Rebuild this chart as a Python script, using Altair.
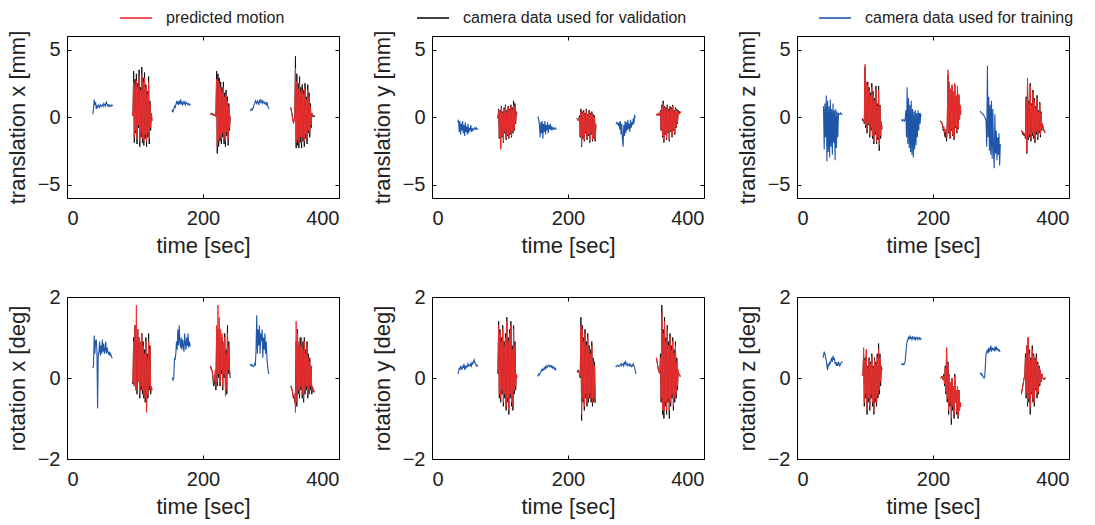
import altair as alt
import pandas as pd

STEP = 1.0  # sampling interval of every recorded segment [s]

SERIES = ["predicted motion", "camera data used for validation", "camera data used for training"]
COLORS = ["#EE2E2E", "#111111", "#1F56A8"]

# ---------------- translation x [mm] ----------------
tx_train_t0 = [38, 154, 269]
tx_train = [
    [0.2, 0.6, 1.3, 0.9, 1.1, 0.6, 0.8, 0.7, 0.9, 0.8, 0.7, 0.9, 0.8, 0.8, 0.9, 0.8, 1.0, 0.9, 0.8, 1.0, 1.1, 0.9, 0.8, 0.9, 0.8, 0.9, 0.8, 0.8, 0.9, 0.8],
    [0.4, 0.5, 0.4, 0.6, 0.8, 0.7, 0.9, 1.1, 1.0, 1.2, 0.9, 1.1, 1.0, 1.3, 1.0, 1.1, 0.9, 1.0, 1.2, 1.0, 0.9, 1.1, 1.0, 1.0, 0.9, 1.0, 0.9, 0.9, 0.9],
    [0.5, 0.5, 0.6, 0.5, 0.6, 0.7, 0.9, 1.0, 1.2, 1.1, 1.0, 1.2, 1.1, 0.9, 1.2, 1.1, 1.3, 1.1, 1.0, 1.2, 1.1, 1.0, 1.1, 1.0, 0.9, 1.1, 0.9, 0.7, 0.6],
]
tx_valid_t0 = [96, 211, 329]
tx_valid = [
    [0.2, 0.1, 3.4, -1.9, 2.8, -1.2, 3.2, -2.0, 2.5, -0.8, 3.5, -2.2, 2.2, -1.5, 3.7, -1.9, 2.9, -2.1, 3.3, -1.6, 2.4, -2.2, 1.9, -1.5, 3.0, -2.0, 1.2, -1.0, 0.3, -0.3],
    [0.2, 0.2, 0.3, 0.2, 0.1, 0.2, 0.2, 0.1, 0.0, 3.4, -2.7, 3.2, -2.2, 2.9, -1.8, 2.6, -2.0, 2.2, -1.5, 2.6, -2.0, 1.8, -2.2, 2.0, -1.4, 1.5, -2.1, 1.0, -1.0, 0.0],
    [0.7, 0.5, 0.2, -0.1, -0.4, -0.2, 0.0, 4.5, -2.3, 3.2, -2.1, 2.5, -2.3, 3.0, -1.9, 2.2, -2.3, 2.4, -1.8, 2.0, -2.2, 2.5, -1.6, 1.5, -2.0, 2.4, -1.2, 1.8, -1.5, 1.0, -0.8, 0.3, 0.1, 0.0, 0.1, 0.0],
]
tx_pred = [
    [0.3, 0.1, 2.6, -1.5, 2.4, -1.0, 2.7, -1.6, 2.2, -0.6, 3.0, -1.8, 2.0, -1.2, 3.2, -1.6, 2.6, -1.8, 2.9, -1.3, 2.2, -1.8, 1.7, -1.2, 2.6, -1.6, 1.0, -0.8, 0.3, -0.2],
    [0.3, 0.2, 0.2, 0.3, 0.1, 0.2, 0.1, 0.2, 0.0, 2.8, -2.2, 2.7, -1.8, 2.5, -1.5, 2.2, -1.6, 1.9, -1.2, 2.2, -1.6, 1.5, -1.8, 1.7, -1.1, 1.2, -1.7, 0.8, -0.8, 0.1],
    [0.7, 0.4, 0.1, -0.2, -0.5, -0.3, 0.0, 3.6, -1.9, 2.6, -1.7, 2.1, -1.9, 2.5, -1.5, 1.8, -1.9, 2.0, -1.5, 1.7, -1.8, 2.1, -1.3, 1.3, -1.6, 2.0, -1.0, 1.5, -1.2, 0.8, -0.6, 0.3, 0.2, 0.1, 0.1, 0.1],
]

# ---------------- translation y [mm] ----------------
ty_train_t0 = [38, 155, 270]
ty_train = [
    [-0.4, -0.2, -1.1, -0.3, -1.3, -0.5, -1.0, -0.3, -1.2, -0.6, -1.4, -0.4, -1.1, -0.7, -1.3, -0.5, -1.2, -0.8, -1.0, -0.6, -1.1, -0.8, -1.0, -0.9, -0.9, -0.8, -0.9, -0.8, -0.9, -0.9, -0.9],
    [0.0, 0.0, -0.2, -0.6, -1.5, -0.4, -1.2, -0.3, -1.6, -0.5, -1.1, -0.3, -1.3, -0.6, -1.0, -0.4, -1.2, -0.6, -0.9, -0.5, -1.0, -0.7, -0.9, -0.8, -0.9, -0.9, -0.8, -0.9, -0.9],
    [-0.5, -0.5, -0.4, -0.5, -0.6, -0.4, -0.9, -0.3, -1.3, -0.5, -1.6, -2.2, -0.6, -1.4, -0.3, -1.2, -0.4, -1.0, -0.2, -0.9, -0.5, -1.1, -0.2, -0.8, -0.4, -0.6, -0.1, -0.5, 0.1, 0.0, 0.0],
]
ty_valid_t0 = [96, 213, 330]
ty_valid = [
    [0.0, -0.1, 0.6, -1.6, 0.5, -2.3, 0.8, -1.5, 0.4, -1.9, 0.7, -1.2, 0.9, -1.7, 0.5, -1.4, 0.8, -1.6, 0.6, -1.3, 0.9, -1.5, 0.7, -1.2, 1.2, -1.0, 1.0, -0.5, 0.4, 0.2],
    [-0.1, -0.2, -0.2, -0.1, 0.1, -1.5, 0.6, -2.2, 0.4, -1.6, 0.5, -1.8, 0.3, -1.2, 0.6, -1.7, 0.2, -1.4, 0.5, -1.9, 0.3, -1.3, 0.4, -1.8, 0.2, -1.6, 0.1, -1.8, -0.5],
    [0.2, 0.2, 0.1, 0.3, 0.2, 0.1, 0.5, -1.0, 0.9, -1.5, 1.2, -1.9, 0.8, -1.3, 0.7, -1.7, 0.9, -1.2, 0.6, -1.8, 0.8, -1.1, 0.7, -1.5, 0.9, -1.0, 0.5, -1.3, 0.7, -0.8, 0.6, -0.5, 0.5, 0.2, 0.4, 0.3, 0.4],
]
ty_pred = [
    [0.0, -0.1, 0.5, -1.5, 0.4, -2.4, 0.7, -1.4, 0.3, -1.8, 0.6, -1.1, 0.8, -1.6, 0.4, -1.3, 0.7, -1.5, 0.5, -1.2, 0.8, -1.4, 0.6, -1.1, 0.9, -0.9, 0.8, -0.4, 0.3, 0.3],
    [-0.1, -0.2, -0.3, -0.2, 0.0, -1.4, 0.4, -2.1, 0.3, -1.5, 0.4, -1.7, 0.2, -1.1, 0.5, -1.6, 0.1, -1.3, 0.4, -1.8, 0.2, -1.2, 0.3, -1.7, 0.1, -1.5, 0.0, -1.7, -0.5],
    [0.2, 0.1, 0.2, 0.3, 0.1, 0.1, 0.4, -0.9, 0.8, -1.4, 1.0, -1.8, 0.7, -1.2, 0.6, -1.6, 0.8, -1.1, 0.5, -1.7, 0.7, -1.0, 0.6, -1.4, 0.8, -0.9, 0.4, -1.2, 0.6, -0.7, 0.5, -0.4, 0.4, 0.2, 0.3, 0.3, 0.4],
]

# ---------------- translation z [mm] ----------------
tz_train_t0 = [38, 153, 269]
tz_train = [
    [0.8, 0.7, -2.4, 1.0, -1.5, 1.6, -3.3, 1.2, -2.6, 0.8, -3.0, 1.3, -2.2, 0.6, -2.8, 1.0, -1.9, 0.5, -3.2, 0.6, -2.3, 0.4, -1.5, 0.3, 0.2, 0.2, 0.3, 0.2, 0.2, 0.2],
    [-0.2, -0.2, -0.3, -0.2, -0.2, -0.3, -0.2, 0.5, -1.5, 2.2, -2.0, 1.4, -2.3, 0.9, -2.6, 1.2, -2.8, 0.6, -3.0, 0.4, -2.4, 0.5, -2.1, 0.3, -1.5, 0.5, -1.0, 0.3, -0.5, 0.2, 0.1],
    [0.4, 0.4, 0.3, 0.3, 0.2, 0.2, 0.1, 0.0, -0.1, -0.3, -2.2, 3.8, -1.5, 1.5, -2.5, 0.9, -2.8, 1.2, -3.1, 0.6, -2.5, -3.8, 0.2, -2.7, -1.0, -3.2, -1.5, -2.8, -1.2, -3.6, -2.0],
]
tz_valid_t0 = [96, 211, 330]
tz_valid = [
    [-0.1, -0.3, -0.2, -0.5, 3.7, -0.8, 2.4, -1.2, 2.6, -0.6, 2.2, -1.5, 1.8, -1.0, 2.5, -1.6, 1.9, -2.0, 1.4, -1.3, 2.3, -2.0, 1.0, -1.7, 2.3, -2.5, 0.9, -1.6, -0.4, -0.9],
    [-0.3, -0.4, -0.5, -0.6, -1.0, -0.9, -1.3, -1.5, -1.1, -1.8, -0.5, 3.1, -1.2, 2.4, -1.6, 2.0, -1.0, 2.3, -1.4, 1.8, -1.7, 2.4, -0.8, 1.5, -1.2, 2.2, -0.9, 1.6, -0.2, 0.8, 0.2],
    [-1.0, -1.1, -1.3, -1.2, -1.4, -1.3, -1.6, 1.5, -2.7, 2.8, -1.7, 1.2, -1.5, 2.5, -1.8, 1.0, -1.4, 2.0, -1.6, 1.4, -1.9, 0.8, -1.3, 1.6, -1.7, 0.5, -1.2, 1.1, -1.5, 0.4, -1.0, -0.5, -0.8, -1.0, -1.1, -1.2],
]
tz_pred = [
    [-0.1, -0.2, -0.2, -0.4, 3.9, -0.6, 2.6, -1.0, 2.4, -0.5, 2.0, -1.3, 1.6, -0.8, 2.2, -1.4, 1.7, -1.8, 1.2, -1.1, 2.0, -1.8, 0.8, -1.5, 2.0, -2.1, 0.8, -1.4, -0.3, -0.9],
    [-0.3, -0.3, -0.4, -0.5, -0.8, -0.7, -1.0, -1.2, -0.9, -1.5, -0.4, 3.5, -1.1, 2.6, -1.5, 2.1, -0.9, 2.4, -1.3, 1.9, -1.6, 2.5, -0.7, 1.6, -1.1, 2.3, -0.8, 1.7, -0.2, 0.9, 0.2],
    [-1.0, -1.0, -1.2, -1.1, -1.3, -1.2, -1.5, 1.3, -2.6, 2.9, -1.5, 1.0, -1.3, 2.3, -1.6, 0.9, -1.2, 1.8, -1.4, 1.2, -1.7, 0.7, -1.1, 1.4, -1.5, 0.4, -1.0, 1.0, -1.3, 0.3, -0.9, -0.5, -0.8, -0.9, -1.0, -1.1],
]

# ---------------- rotation x [deg] ----------------
rx_train_t0 = [38, 154, 269]
rx_train = [
    [0.25, 0.3, 1.05, 0.6, 0.9, 0.95, 0.7, -0.75, 0.6, 0.65, 0.9, 0.55, 0.8, 0.6, 0.95, 0.65, 0.85, 0.6, 0.7, 0.9, 0.6, 0.75, 0.65, 0.6, 0.65, 0.55, 0.6, 0.55, 0.5, 0.5],
    [0.0, 0.0, -0.05, 0.0, 0.5, 0.45, 0.6, 0.9, 0.7, 1.2, 0.8, 1.3, 0.9, 0.75, 1.0, 0.7, 0.95, 0.8, 0.65, 1.1, 0.85, 0.7, 1.0, 0.8, 1.1, 0.75, 0.9, 0.8, 0.8],
    [0.35, 0.32, 0.3, 0.33, 0.3, 0.28, 0.3, 0.35, 0.3, 0.7, 1.55, 0.6, 1.2, 0.8, 1.3, 0.6, 1.1, 0.9, 1.2, 0.5, 1.0, 0.7, 1.1, 0.6, 0.9, 0.5, 0.3, 0.15, 0.1],
]
rx_valid_t0 = [96, 211, 329]
rx_valid = [
    [-0.1, -0.15, 1.0, -0.2, 1.3, -0.3, 0.9, -0.4, 1.2, -0.1, 1.0, -0.5, 0.8, -0.3, 1.1, -0.4, 0.9, -0.5, 0.7, -0.6, 1.0, -0.8, 0.6, -0.5, 1.1, -0.3, 0.8, -0.4, -0.2, -0.3],
    [0.3, 0.25, 0.2, 0.1, -0.1, -0.2, -0.1, 0.1, -0.3, 1.0, -0.2, 1.2, 0.0, 1.1, -0.2, 0.9, 0.1, 1.0, -0.3, 0.8, 0.0, 1.1, -0.2, 0.7, -0.4, 1.3, 0.1, 0.9, 0.2, 0.0],
    [-0.2, -0.25, -0.3, -0.4, -0.5, -0.45, -0.6, -0.3, 0.9, -0.7, 1.2, -0.4, 0.8, -0.5, 1.0, -0.3, 0.6, -0.5, 0.9, -0.6, 1.0, -0.4, 0.7, -0.3, 0.9, -0.5, 0.6, -0.4, 0.5, -0.3, 0.3, -0.4, -0.2, -0.3, -0.35, -0.35],
]
rx_pred = [
    [-0.1, -0.1, 0.9, -0.2, 1.3, -0.3, 1.8, -0.3, 1.2, -0.1, 1.0, -0.4, 0.9, -0.2, 1.1, -0.3, 0.8, -0.4, 0.6, -0.5, 0.9, -0.85, 0.5, -0.4, 0.9, -0.2, 0.7, -0.3, -0.2, -0.3],
    [0.3, 0.2, 0.2, 0.15, 0.0, -0.1, 0.0, 0.2, -0.2, 1.3, -0.1, 1.8, 0.1, 1.5, -0.1, 1.2, 0.2, 1.1, -0.2, 0.9, 0.1, 1.0, -0.45, 0.6, -0.3, 1.1, 0.2, 0.8, 0.2, 0.1],
    [-0.2, -0.2, -0.3, -0.35, -0.45, -0.4, -0.5, -0.85, 1.4, -0.6, 1.1, -0.3, 0.9, -0.4, 0.8, -0.2, 1.0, -0.4, 0.7, -0.5, 0.9, -0.3, 0.6, -0.2, 0.8, -0.4, 0.5, -0.3, 0.4, -0.2, 0.3, -0.3, -0.2, -0.3, -0.3, -0.35],
]

# ---------------- rotation y [deg] ----------------
ry_train_t0 = [38, 155, 270]
ry_train = [
    [0.1, 0.15, 0.25, 0.2, 0.3, 0.25, 0.2, 0.3, 0.25, 0.35, 0.2, 0.3, 0.25, 0.3, 0.28, 0.35, 0.3, 0.32, 0.3, 0.35, 0.3, 0.38, 0.35, 0.4, 0.45, 0.38, 0.35, 0.3, 0.32, 0.3, 0.3],
    [0.05, 0.05, 0.1, 0.08, 0.12, 0.15, 0.2, 0.18, 0.22, 0.2, 0.25, 0.22, 0.28, 0.25, 0.3, 0.27, 0.3, 0.32, 0.28, 0.3, 0.27, 0.3, 0.25, 0.28, 0.25, 0.22, 0.25, 0.2, 0.2],
    [0.3, 0.28, 0.3, 0.32, 0.3, 0.28, 0.3, 0.33, 0.35, 0.3, 0.32, 0.35, 0.3, 0.38, 0.35, 0.4, 0.33, 0.3, 0.35, 0.32, 0.3, 0.35, 0.3, 0.28, 0.32, 0.3, 0.35, 0.3, 0.25, 0.15, 0.1],
]
ry_valid_t0 = [96, 213, 330]
ry_valid = [
    [0.15, 0.1, 1.4, -0.5, 1.2, -0.6, 1.0, -0.4, 1.3, -0.7, 0.9, -0.5, 1.1, -0.8, 1.5, -0.6, 1.0, -0.9, 1.2, -0.5, 1.4, -0.7, 0.8, -0.8, 1.3, -0.4, 0.9, -0.3, 0.1, 0.0],
    [0.15, 0.15, 0.2, 0.15, 0.1, 0.0, 1.5, -1.05, 1.3, -0.6, 1.0, -0.8, 1.2, -0.5, 0.9, -0.7, 1.1, -0.6, 0.8, -0.5, 0.7, -0.6, 0.9, -0.7, 0.5, -0.6, 0.4, -0.6, -0.6],
    [0.5, 0.4, 0.3, 0.2, 0.15, 0.1, 0.6, -0.6, 1.8, -0.9, 1.2, -1.0, 1.5, -0.7, 1.0, -0.9, 1.3, -0.6, 0.9, -1.0, 1.1, -0.7, 0.8, -0.5, 1.0, -0.8, 0.7, -0.6, 0.9, -0.5, 0.5, -0.3, 0.2, 0.1, 0.05, 0.05, 0.05],
]
ry_pred = [
    [0.15, 0.1, 1.3, -0.4, 1.1, -0.5, 0.9, -0.3, 1.2, -0.6, 0.8, -0.4, 1.0, -0.7, 1.4, -0.5, 0.9, -0.8, 1.1, -0.4, 1.3, -0.6, 0.7, -0.7, 1.2, -0.3, 0.8, -0.2, 0.1, 0.0],
    [0.15, 0.15, 0.15, 0.15, 0.1, 0.05, 1.3, -0.9, 1.2, -0.5, 0.9, -0.7, 1.1, -0.4, 0.8, -0.6, 1.0, -0.5, 0.7, -0.4, 0.6, -0.5, 0.8, -0.6, 0.4, -0.5, 0.3, -0.5, -0.5],
    [0.5, 0.4, 0.3, 0.2, 0.15, 0.1, 0.5, -0.5, 1.6, -0.8, 1.1, -0.8, 1.4, -0.6, 0.9, -0.8, 1.2, -0.5, 0.8, -0.8, 1.0, -0.6, 0.7, -0.4, 0.9, -0.7, 0.6, -0.5, 0.8, -0.4, 0.4, -0.2, 0.2, 0.1, 0.05, 0.05, 0.05],
]

# ---------------- rotation z [deg] ----------------
rz_train_t0 = [38, 153, 269]
rz_train = [
    [0.5, 0.55, 0.65, 0.6, 0.5, 0.45, 0.3, 0.2, 0.35, 0.3, 0.4, 0.35, 0.45, 0.5, 0.4, 0.55, 0.45, 0.5, 0.35, 0.4, 0.3, 0.35, 0.3, 0.4, 0.35, 0.3, 0.35, 0.38, 0.4, 0.4],
    [0.35, 0.35, 0.33, 0.35, 0.33, 0.35, 0.4, 0.6, 0.8, 0.9, 0.95, 1.0, 0.95, 1.05, 0.98, 1.0, 0.95, 1.02, 1.0, 0.96, 1.0, 0.95, 1.0, 0.97, 1.0, 0.95, 0.98, 1.0, 0.95, 0.98, 0.97],
    [0.1, 0.12, 0.08, 0.1, 0.05, 0.03, 0.0, 0.02, 0.3, 0.6, 0.65, 0.7, 0.6, 0.75, 0.65, 0.7, 0.8, 0.65, 0.75, 0.7, 0.72, 0.68, 0.75, 0.7, 0.78, 0.7, 0.72, 0.68, 0.7, 0.66, 0.65],
]
rz_valid_t0 = [96, 211, 330]
rz_valid = [
    [0.05, 0.1, 0.6, -0.7, 0.5, -0.5, 0.7, -0.9, 0.3, -0.6, 0.5, -0.8, 0.4, -0.5, 0.6, -0.7, 0.3, -0.9, 0.5, -0.6, 0.4, -0.7, 0.6, -0.5, 0.85, -0.4, 0.6, -0.2, 0.3, 0.2],
    [0.0, 0.0, 0.05, 0.0, -0.05, 0.1, -0.2, 0.3, -0.4, 0.75, -0.6, 0.4, -0.9, 0.1, -0.7, -0.1, -1.15, 0.0, -0.8, -0.2, -1.0, 0.1, -0.6, -0.3, -0.9, -0.2, -1.0, -0.3, -0.8, -0.6, -0.7],
    [-0.4, -0.3, -0.2, -0.1, 0.0, 0.05, 0.6, -0.5, 0.8, -0.7, 1.0, -0.6, 0.7, -0.9, 0.5, -0.4, 0.8, -0.6, 0.6, -0.7, 0.5, -0.3, 0.6, -0.5, 0.4, -0.4, 0.3, -0.2, 0.2, -0.1, 0.1, 0.0, 0.0, -0.05, 0.0, 0.0, 0.0],
]
rz_pred = [
    [0.05, 0.1, 0.75, -0.6, 0.45, -0.4, 0.7, -0.8, 0.25, -0.5, 0.45, -0.7, 0.35, -0.4, 0.55, -0.6, 0.25, -0.85, 0.45, -0.5, 0.35, -0.6, 0.5, -0.4, 0.7, -0.3, 0.5, -0.1, 0.3, 0.2],
    [0.0, 0.0, 0.05, 0.0, -0.05, 0.05, -0.15, 0.25, -0.35, 0.75, -0.5, 0.35, -0.8, 0.1, -0.6, -0.1, -1.0, 0.0, -0.7, -0.2, -0.9, 0.05, -0.6, -0.3, -0.85, -0.2, -0.95, -0.3, -0.8, -0.6, -0.7],
    [-0.4, -0.3, -0.2, -0.1, 0.0, 0.05, 0.5, -0.4, 0.8, -0.6, 1.0, -0.5, 0.6, -0.75, 0.45, -0.35, 0.7, -0.5, 0.55, -0.6, 0.45, -0.25, 0.5, -0.4, 0.35, -0.35, 0.25, -0.15, 0.2, -0.1, 0.1, 0.0, 0.0, -0.05, 0.0, 0.0, 0.0],
]

PANELS = [
    ("translation x [mm]", [-6, 6], [-5, 0, 5], tx_train_t0, tx_train, tx_valid_t0, tx_valid, tx_pred),
    ("translation y [mm]", [-6, 6], [-5, 0, 5], ty_train_t0, ty_train, ty_valid_t0, ty_valid, ty_pred),
    ("translation z [mm]", [-6, 6], [-5, 0, 5], tz_train_t0, tz_train, tz_valid_t0, tz_valid, tz_pred),
    ("rotation x [deg]", [-2, 2], [-2, 0, 2], rx_train_t0, rx_train, rx_valid_t0, rx_valid, rx_pred),
    ("rotation y [deg]", [-2, 2], [-2, 0, 2], ry_train_t0, ry_train, ry_valid_t0, ry_valid, ry_pred),
    ("rotation z [deg]", [-2, 2], [-2, 0, 2], rz_train_t0, rz_train, rz_valid_t0, rz_valid, rz_pred),
]

FONT = "Liberation Sans, Arial, Helvetica, sans-serif"
W, H = 272, 162
TICK_IN = {"expr": "-4"}


def segment_rows(series, starts, lists):
    rows = []
    for k, (t0, vals) in enumerate(zip(starts, lists)):
        for i, v in enumerate(vals):
            rows.append({"t": t0 + i * STEP, "v": v, "series": series, "seg": f"{series}-{k}"})
    return rows


def panel(idx, ylabel, ydom, yticks, tr_t0, tr, va_t0, va, pr):
    rows = (segment_rows(SERIES[2], tr_t0, tr)
            + segment_rows(SERIES[1], va_t0, va)
            + segment_rows(SERIES[0], va_t0, pr))
    df = pd.DataFrame(rows)
    base = alt.Chart(df)
    xscale = alt.Scale(domain=[0, 400], nice=False)
    yscale = alt.Scale(domain=ydom, nice=False)
    cscale = alt.Scale(domain=SERIES, range=COLORS)
    legend = None
    if idx == 0:
        legend = alt.Legend(
            orient="none", legendX=52, legendY=-35, direction="horizontal",
            title=None, symbolType="stroke", symbolSize=1024, symbolStrokeWidth=1.6,
            labelFont=FONT, labelFontSize=16, labelColor="#222222", labelOffset=13,
            labelLimit=400, columnPadding=128,
        )
    xaxis = alt.Axis(orient="bottom", values=[0, 200, 400], title="time [sec]",
                     tickSize=TICK_IN, labelPadding=14, domain=False, grid=False,
                     tickColor="#000000", titlePadding=7)
    yaxis = alt.Axis(orient="left", values=yticks, title=ylabel,
                     tickSize=TICK_IN, labelPadding=11, domain=False, grid=False,
                     tickColor="#000000", titlePadding=8)
    layers = []
    order = [(SERIES[2], 1.1), (SERIES[1], 1.0), (SERIES[0], 1.0)]
    for j, (name, sw) in enumerate(order):
        layers.append(
            base.transform_filter(alt.datum.series == name)
            .mark_line(strokeWidth=sw, clip=True)
            .encode(
                x=alt.X("t:Q", scale=xscale, axis=xaxis if j == 0 else None),
                y=alt.Y("v:Q", scale=yscale, axis=yaxis if j == 0 else None),
                color=alt.Color("series:N", scale=cscale, legend=legend if j == 0 else None),
                detail="seg:N",
            )
        )
    frame = base.mark_point(opacity=0).encode(
        x=alt.X("t:Q", scale=xscale, axis=alt.Axis(orient="top", values=[0, 200, 400], labels=False,
                                                    title=None, tickSize=TICK_IN, domain=False,
                                                    grid=False, tickColor="#000000")),
        y=alt.Y("v:Q", scale=yscale, axis=alt.Axis(orient="right", values=yticks, labels=False,
                                                    title=None, tickSize=TICK_IN, domain=False,
                                                    grid=False, tickColor="#000000")),
    )
    return alt.layer(*layers, frame).properties(width=W, height=H)


charts = [panel(i, *p) for i, p in enumerate(PANELS)]

chart = alt.concat(
    *charts, columns=3, spacing={"row": 99, "column": 93}, bounds="flush"
).properties(
    padding={"left": 5, "top": 1, "right": 5, "bottom": 5},
    background="white",
).configure_view(
    stroke="#000000", strokeWidth=1
).configure_axis(
    labelFont=FONT, labelFontSize=20, labelColor="#222222",
    titleFont=FONT, titleFontSize=22, titleFontWeight="normal", titleColor="#222222",
).resolve_scale(color="shared")

chart.save("out.html", embed_options={"renderer": "svg", "actions": False})
